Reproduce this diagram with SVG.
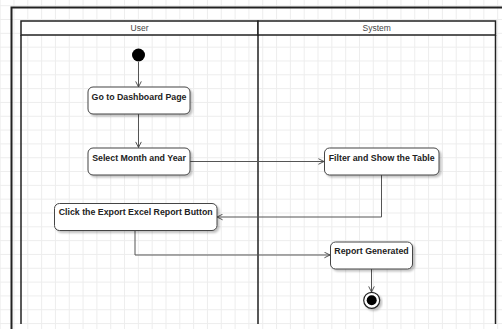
<svg xmlns="http://www.w3.org/2000/svg" width="502" height="329" viewBox="0 0 502 329">
  <defs>
    <pattern id="grid" x="-0.34" y="5.2" width="13.82" height="13.82" patternUnits="userSpaceOnUse">
      <path d="M0.5 0 V13.82 M0 0.5 H13.82" fill="none" stroke="#ededed" stroke-width="1"/>
    </pattern>
    <filter id="shadow" x="-10%" y="-20%" width="130%" height="160%">
      <feGaussianBlur in="SourceAlpha" stdDeviation="1.2"/>
      <feOffset dx="2" dy="2" result="blur"/>
      <feComponentTransfer><feFuncA type="linear" slope="0.25"/></feComponentTransfer>
      <feMerge><feMergeNode/><feMergeNode in="SourceGraphic"/></feMerge>
    </filter>
    <marker id="open" viewBox="0 0 10 10" refX="9" refY="5" markerWidth="7" markerHeight="7" markerUnits="userSpaceOnUse" orient="auto">
      <path d="M1 1 L9 5 L1 9" fill="none" stroke="#444" stroke-width="1.3"/>
    </marker>
    <style>
      .act { fill: #ffffff; stroke: #444; stroke-width: 1; filter: url(#shadow); }
      .lbl { font-family: "Liberation Sans", Arial, sans-serif; font-size: 8.8px; font-weight: bold; fill: #222; text-anchor: middle; }
      .hdr { font-family: "Liberation Sans", Arial, sans-serif; font-size: 8.5px; fill: #444; text-anchor: middle; }
      .lane { fill: #ffffff; stroke: #222; stroke-width: 1.5; }
      .edge { fill: none; stroke: #222; stroke-width: 1.5; }
      .flow { fill: none; stroke: #555; stroke-width: 1; marker-end: url(#open); }
    </style>
  </defs>

  <!-- canvas and grid -->
  <rect x="0" y="0" width="502" height="329" fill="#ffffff"/>
  <rect x="0" y="0" width="502" height="329" fill="url(#grid)"/>

  <!-- outer frame -->
  <path d="M11.5 329 V7.5 H502" fill="none" stroke="#222" stroke-width="2"/>

  <!-- swimlanes -->
  <g id="lane-user">
    <rect class="lane" x="21" y="21" width="237" height="14"/>
    <path class="edge" d="M21 35 V324"/>
    <text class="hdr" x="139.5" y="31">User</text>
  </g>
  <g id="lane-system">
    <rect class="lane" x="258" y="21" width="237.5" height="14"/>
    <path class="edge" d="M258 35 V324 M495.5 35 V324"/>
    <text class="hdr" x="376.7" y="31">System</text>
  </g>

  <!-- connectors -->
  <g id="connectors">
    <path class="flow" d="M138.5 62 V87"/>
    <path class="flow" d="M138.5 114 V147.5"/>
    <path class="flow" d="M190 161.5 H324"/>
    <path class="flow" d="M381.5 175 V217 H217"/>
    <path class="flow" d="M135 231 V255 H330"/>
    <path class="flow" d="M371.5 269 V292"/>
  </g>

  <!-- nodes -->
  <g id="start">
    <circle cx="138.5" cy="55" r="6.5" fill="#000"/>
  </g>
  <g id="go-dashboard">
    <rect class="act" x="88" y="87" width="102" height="27" rx="5"/>
    <text class="lbl" x="139" y="99.5">Go to Dashboard Page</text>
  </g>
  <g id="select-month">
    <rect class="act" x="88" y="148" width="102" height="27" rx="5"/>
    <text class="lbl" x="139" y="160.5">Select Month and Year</text>
  </g>
  <g id="filter-table">
    <rect class="act" x="324.5" y="148" width="114.5" height="27" rx="5"/>
    <text class="lbl" x="381.7" y="160.5">Filter and Show the Table</text>
  </g>
  <g id="click-export">
    <rect class="act" x="54.5" y="203.5" width="162.5" height="27" rx="5"/>
    <text class="lbl" x="135.7" y="215">Click the Export Excel Report Button</text>
  </g>
  <g id="report-generated">
    <rect class="act" x="330.5" y="242" width="82" height="27" rx="5"/>
    <text class="lbl" x="371.5" y="253.5">Report Generated</text>
  </g>
  <g id="end">
    <circle cx="371.7" cy="300.3" r="8" fill="#fff" stroke="#222" stroke-width="1.2" filter="url(#shadow)"/>
    <circle cx="371.7" cy="300.3" r="5" fill="#000"/>
  </g>
</svg>
